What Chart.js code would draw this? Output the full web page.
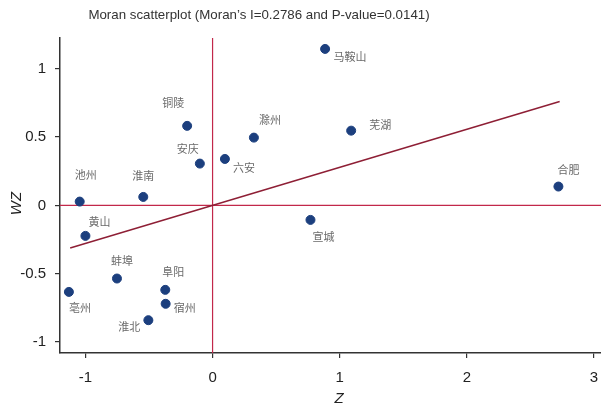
<!DOCTYPE html>
<html>
<head>
<meta charset="utf-8">
<script src="https://cdn.jsdelivr.net/npm/chart.js@4"></script>
<style>
html,body{margin:0;padding:0;background:#fff;overflow:hidden;}
#wrap{width:601px;height:406px;position:relative;}
</style>
</head>
<body>
<div id="wrap"><canvas id="c" width="601" height="406"></canvas></div>
<script>
// ---- data ----
const cities = ['马鞍山','芜湖','合肥','宣城','滁州','六安','安庆','铜陵','淮南','池州','黄山','蚌埠','亳州','阜阳','宿州','淮北'];
const zValues  = [0.885, 1.09, 2.72, 0.77, 0.325, 0.097, -0.10, -0.20, -0.545, -1.045, -1.00, -0.752, -1.13, -0.372, -0.369, -0.505];
const wzValues = [1.145, 0.547, 0.138, -0.106, 0.496, 0.34, 0.306, 0.582, 0.062, 0.028, -0.223, -0.535, -0.633, -0.618, -0.72, -0.84];
const fitZ  = [-1.12, 2.73];
const fitWZ = [-0.312, 0.761];
const xTicks = [-1, 0, 1, 2, 3];
const xTickLabels = ['-1', '0', '1', '2', '3'];
const yTicks = [-1, -0.5, 0, 0.5, 1];
const yTickLabels = ['-1', '-0.5', '0', '0.5', '1'];
const titleText = "Moran scatterplot (Moran\u2019s I=0.2786 and P-value=0.0141)";
const xTitle = 'Z';
const yTitle = 'WZ';

// label placement (pixel offsets from each point), not data
const labelOffsets = {
  '马鞍山':[25,8],'芜湖':[29,-6],'合肥':[10,-17],'宣城':[13,17],'滁州':[16,-18],'六安':[19,9],
  '安庆':[-12,-15],'铜陵':[-14,-23],'淮南':[0,-21],'池州':[6,-27],'黄山':[14,-14],'蚌埠':[5,-18],
  '亳州':[11,16],'阜阳':[8,-18],'宿州':[19,4],'淮北':[-19,7]
};

const X_MIN = -1.2, X_MAX = 3.055, Y_MIN = -1.08, Y_MAX = 1.225;
const FONT = '"Liberation Sans", Arial, sans-serif';

const points = zValues.map((z, i) => ({x: z, y: wzValues[i]}));

const labelPlugin = {
  id: 'labels',
  afterDatasetsDraw(chart) {
    const ctx = chart.ctx;
    const xs = chart.scales.x, ys = chart.scales.y;
    ctx.save();
    ctx.font = '11px "Noto Sans CJK SC", sans-serif';
    ctx.fillStyle = '#6a6a6a';
    ctx.textAlign = 'center';
    ctx.textBaseline = 'middle';
    cities.forEach((name, i) => {
      const px = xs.getPixelForValue(zValues[i]);
      const py = ys.getPixelForValue(wzValues[i]);
      const o = labelOffsets[name];
      ctx.fillText(name, px + o[0], py + o[1]);
    });
    ctx.restore();
  },
  afterDraw(chart) {
    const ctx = chart.ctx;
    const area = chart.chartArea;
    ctx.save();
    ctx.font = '13.3px ' + FONT;
    ctx.fillStyle = '#333';
    ctx.textAlign = 'center';
    ctx.textBaseline = 'middle';
    ctx.fillText(titleText, 259, 15);
    ctx.font = 'italic 15px ' + FONT;
    ctx.fillStyle = '#222';
    ctx.fillText(xTitle, 339, 399);
    ctx.translate(17, (area.top + area.bottom) / 2 + 8);
    ctx.rotate(-Math.PI / 2);
    ctx.fillText(yTitle, 0, 0);
    ctx.restore();
  }
};

new Chart(document.getElementById('c'), {
  type: 'scatter',
  data: {
    datasets: [
      {
        label: 'cities',
        data: points,
        backgroundColor: '#1c3f7e',
        borderColor: '#1c3f7e',
        pointRadius: 4.5,
        pointHoverRadius: 4.5,
        order: 0
      },
      {
        label: 'fit',
        type: 'line',
        data: fitZ.map((z, i) => ({x: z, y: fitWZ[i]})),
        borderColor: '#8e1f35',
        borderWidth: 1.5,
        pointRadius: 0,
        fill: false,
        order: 1
      },
      {
        label: 'h0',
        type: 'line',
        data: [{x: X_MIN, y: 0}, {x: X_MAX, y: 0}],
        borderColor: '#c2284a',
        borderWidth: 1.2,
        pointRadius: 0,
        fill: false,
        order: 2
      },
      {
        label: 'v0',
        type: 'line',
        data: [{x: 0, y: Y_MIN}, {x: 0, y: Y_MAX}],
        borderColor: '#c2284a',
        borderWidth: 1.2,
        pointRadius: 0,
        fill: false,
        order: 2
      }
    ]
  },
  options: {
    responsive: false,
    animation: false,
    devicePixelRatio: 1,
    layout: {autoPadding: false, padding: {top: 38, right: 0, left: 0, bottom: 0}},
    plugins: {
      legend: {display: false},
      title: {display: false},
      tooltip: {enabled: false}
    },
    scales: {
      x: {
        type: 'linear',
        min: X_MIN, max: X_MAX,
        afterBuildTicks: (s) => { s.ticks = xTicks.map(v => ({value: v})); },
        afterFit: (s) => { s.height = 53; s.paddingLeft = 0; s.paddingRight = 0; },
        grid: {display: true, drawOnChartArea: false, drawTicks: true, tickLength: 5, color: '#333', lineWidth: 1.2},
        border: {display: true, color: '#333', width: 1.5},
        ticks: {
          font: {size: 15, family: FONT}, color: '#222', padding: 11, maxRotation: 0,
          callback: (v) => { const i = xTicks.indexOf(v); return i >= 0 ? xTickLabels[i] : ''; }
        }
      },
      y: {
        type: 'linear',
        min: Y_MIN, max: Y_MAX,
        afterBuildTicks: (s) => { s.ticks = yTicks.map(v => ({value: v})); },
        afterFit: (s) => { s.width = 60; s.paddingTop = 0; s.paddingBottom = 0; },
        grid: {display: true, drawOnChartArea: false, drawTicks: true, tickLength: 5, color: '#333', lineWidth: 1.2},
        border: {display: true, color: '#333', width: 1.5},
        ticks: {
          font: {size: 15, family: FONT}, color: '#222', padding: 9,
          callback: (v) => { const i = yTicks.indexOf(v); return i >= 0 ? yTickLabels[i] : ''; }
        }
      }
    }
  },
  plugins: [labelPlugin]
});
</script>
</body>
</html>
